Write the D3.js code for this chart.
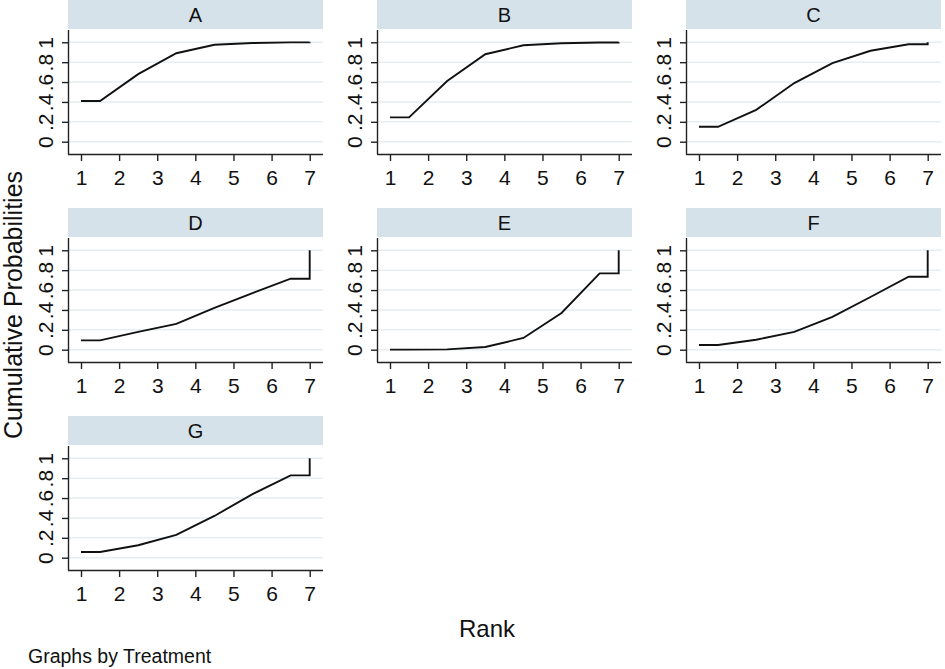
<!DOCTYPE html>
<html>
<head>
<meta charset="utf-8">
<script src="https://cdn.jsdelivr.net/npm/d3@7"></script>
<style>
  body { margin: 0; background: #fff; }
  svg { display: block; font-family: "Liberation Sans", Arial, sans-serif; }
  .axis path, .axis line { stroke: #222; stroke-width: 1.4; }
  .axis text { font-size: 21px; fill: #111; font-family: "Liberation Sans", Arial, sans-serif; }
</style>
</head>
<body>
<script>
var width = 945,
    height = 669;

// treatments, one panel each
var treatments = ["A", "B", "C", "D", "E", "F", "G"];

// cumulative probability of being ranked <= r, r = 1..6 (rank 7 is always 1)
var cumA = [0.41, 0.68, 0.89, 0.975, 0.993, 0.999];
var cumB = [0.245, 0.61, 0.88, 0.97, 0.99, 0.998];
var cumC = [0.15, 0.32, 0.59, 0.79, 0.915, 0.98];
var cumD = [0.094, 0.18, 0.26, 0.42, 0.57, 0.714];
var cumE = [0.001, 0.003, 0.027, 0.118, 0.37, 0.768];
var cumF = [0.047, 0.10, 0.18, 0.33, 0.53, 0.734];
var cumG = [0.057, 0.125, 0.23, 0.42, 0.64, 0.828];

var series = [cumA, cumB, cumC, cumD, cumE, cumF, cumG];

// x positions the line passes through (Stata style step at the ends)
var rankPos = [1, 1.5, 2.5, 3.5, 4.5, 5.5, 6.5, 7];

var xTicks = [1, 2, 3, 4, 5, 6, 7];
var yTicks = [0, 0.2, 0.4, 0.6, 0.8, 1];
var yTickLabels = ["0", ".2", ".4", ".6", ".8", "1"];

// panel geometry
var panelLeft = 68,
    colStep = 309,
    rowStep = 208,
    panelW = 255,
    stripH = 29,
    plotTop = 30,
    plotBottom = 154;

var xScale = d3.scaleLinear()
    .domain([1, 7])
    .range([13, 241.7]);

var yScale = d3.scaleLinear()
    .domain([0, 1])
    .range([141.7, 42.3]);

var line = d3.line()
    .x(function(d) { return xScale(d[0]); })
    .y(function(d) { return yScale(d[1]); });

var svg = d3.select("body")
    .append("svg")
    .attr("width", width)
    .attr("height", height);

svg.append("rect")
    .attr("width", width)
    .attr("height", height)
    .attr("fill", "#fff");

treatments.forEach(function(t, i) {
    var col = i % 3,
        row = Math.floor(i / 3);
    var g = svg.append("g")
        .attr("transform", "translate(" + (panelLeft + col * colStep) + "," + (row * rowStep) + ")");

    // strip header
    g.append("rect")
        .attr("x", 0)
        .attr("y", 0)
        .attr("width", panelW)
        .attr("height", stripH)
        .attr("fill", "#d6e2e9");

    g.append("text")
        .attr("x", panelW / 2)
        .attr("y", 22)
        .attr("text-anchor", "middle")
        .attr("font-size", "20px")
        .attr("fill", "#111")
        .text(t);

    // gridlines
    g.selectAll(".grid")
        .data(yTicks)
        .enter()
        .append("line")
        .attr("class", "grid")
        .attr("x1", 0)
        .attr("x2", panelW)
        .attr("y1", function(d) { return yScale(d); })
        .attr("y2", function(d) { return yScale(d); })
        .attr("stroke", "#e6eef1")
        .attr("stroke-width", 1.5);

    // x axis
    var xAxis = d3.axisBottom(xScale)
        .tickValues(xTicks)
        .tickFormat(d3.format("d"))
        .tickSize(7)
        .tickPadding(9)
        .tickSizeOuter(0);

    var xg = g.append("g")
        .attr("class", "axis")
        .attr("transform", "translate(0," + plotBottom + ")")
        .call(xAxis);
    xg.select(".domain").attr("d", "M0,0.5H" + panelW);

    // y axis with rotated labels
    var yAxis = d3.axisLeft(yScale)
        .tickValues(yTicks)
        .tickFormat(function(d, k) { return yTickLabels[k]; })
        .tickSize(6)
        .tickSizeOuter(0);

    var yg = g.append("g")
        .attr("class", "axis")
        .call(yAxis);
    yg.select(".domain").attr("d", "M0.5," + plotTop + "V" + plotBottom);
    yg.selectAll("text")
        .attr("x", null)
        .attr("dy", null)
        .attr("text-anchor", "middle")
        .attr("transform", "translate(-15,0) rotate(-90)");

    // cumulative rank line
    var vals = series[i];
    var pts = rankPos.map(function(r, k) {
        var idx = Math.max(0, Math.min(k - 1, vals.length - 1));
        return [r, vals[idx]];
    });
    pts.push([7, 1]);

    g.append("path")
        .datum(pts)
        .attr("fill", "none")
        .attr("stroke", "#111")
        .attr("stroke-width", 1.9)
        .attr("stroke-linejoin", "miter")
        .attr("d", line);
});

// axis titles
svg.append("text")
    .attr("transform", "translate(22,305) rotate(-90)")
    .attr("text-anchor", "middle")
    .attr("font-size", "25px")
    .attr("fill", "#111")
    .text("Cumulative Probabilities");

svg.append("text")
    .attr("x", 487)
    .attr("y", 637)
    .attr("text-anchor", "middle")
    .attr("font-size", "24px")
    .attr("fill", "#111")
    .text("Rank");

svg.append("text")
    .attr("x", 28)
    .attr("y", 663)
    .attr("font-size", "19.5px")
    .attr("fill", "#111")
    .text("Graphs by Treatment");
</script>
</body>
</html>
